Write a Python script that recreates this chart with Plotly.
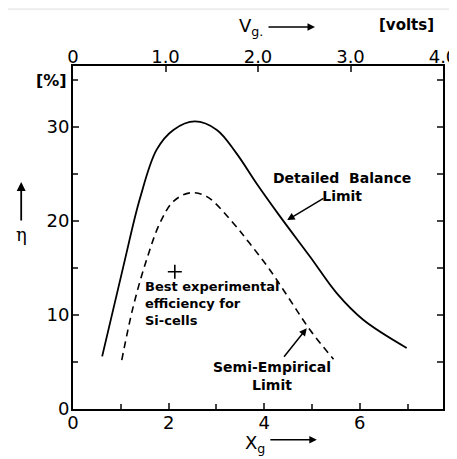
import plotly.graph_objects as go

# Detailed balance limit (solid)
db_x = [0.61, 1.05, 1.40, 1.75, 2.10, 2.55, 3.01, 3.42, 3.84, 4.33, 4.96, 5.52, 6.07, 6.98]
db_y = [5.6, 15.1, 22.4, 27.6, 29.7, 30.6, 29.7, 27.2, 24.0, 20.5, 16.2, 12.3, 9.5, 6.5]

# Semi-empirical limit (dashed)
se_x = [1.02, 1.26, 1.54, 1.82, 2.10, 2.45, 2.80, 3.35, 3.70, 4.12, 4.54, 4.96, 5.45]
se_y = [5.2, 10.9, 15.9, 19.8, 22.1, 23.0, 22.6, 19.8, 17.6, 14.8, 11.6, 8.4, 5.3]

# Best experimental efficiency for Si cells
si_x = [2.13]
si_y = [14.6]

xg_ticks = [0, 2, 4, 6]
vg_ticks = [0, 1.0, 2.0, 3.0, 4.0]
vg_labels = ["0", "1.0", "2.0", "3.0", "4.0"]
eta_ticks = [0, 10, 20, 30]

XG_MAX = 7.74
VG_MAX = 4.0
ETA_MAX = 36.5

fig = go.Figure()
fig.add_trace(go.Scatter(x=db_x, y=db_y, mode="lines", line=dict(color="black", width=1.8, shape="spline", smoothing=1.0), showlegend=False))
fig.add_trace(go.Scatter(x=se_x, y=se_y, mode="lines", line=dict(color="black", width=1.6, shape="spline", smoothing=1.0, dash="7px,5px"), showlegend=False))
fig.add_trace(go.Scatter(x=si_x, y=si_y, mode="markers", marker=dict(symbol="cross-thin", size=10, line=dict(color="black", width=1.6)), showlegend=False))
fig.add_trace(go.Scatter(x=[None], y=[None], xaxis="x2", yaxis="y2", showlegend=False))

tickfont = dict(family="DejaVu Sans", size=18, color="black")
# page body has an 8px margin: paper spans x 8..457, y 8..459
fig.update_layout(
    width=449, height=451,
    margin=dict(l=65, r=14, t=58, b=50, autoexpand=False),
    paper_bgcolor="white", plot_bgcolor="white",
    xaxis=dict(range=[0, XG_MAX], tickvals=xg_ticks, ticks="inside", ticklen=6, tickwidth=1.5,
               minor=dict(dtick=1, tick0=0, ticks="inside", ticklen=5, tickwidth=1.5),
               showline=True, linecolor="black", linewidth=2, showgrid=False, zeroline=False,
               tickfont=tickfont, ticklabeloverflow="allow", automargin=False, ticklabelstandoff=-4),
    yaxis=dict(range=[0, ETA_MAX], tickvals=eta_ticks, ticks="inside", ticklen=6, tickwidth=1.5,
               minor=dict(dtick=5, tick0=0, ticks="inside", ticklen=5, tickwidth=1.5),
               showline=True, linecolor="black", linewidth=2, showgrid=False, zeroline=False,
               tickfont=tickfont, ticklabeloverflow="allow", automargin=False, ticklabelstandoff=-2),
    xaxis2=dict(range=[0, VG_MAX], overlaying="x", side="top", tickvals=vg_ticks, ticktext=vg_labels,
                ticks="inside", ticklen=6, tickwidth=1.5, showline=True, linecolor="black", linewidth=2,
                showgrid=False, zeroline=False, tickfont=tickfont, ticklabeloverflow="allow",
                automargin=False, ticklabelstandoff=-6),
    yaxis2=dict(range=[0, ETA_MAX], overlaying="y", side="right", dtick=5, tick0=0, ticks="inside",
                ticklen=6, tickwidth=1.5, showticklabels=False, showline=True, linecolor="black",
                linewidth=2, showgrid=False, zeroline=False, automargin=False),
)

lab = dict(family="DejaVu Sans", size=13, color="black")
labb = dict(family="DejaVu Sans", size=14, color="black")
C = dict(xanchor="center", yanchor="middle")
ann = []
ann.append(dict(x=5.62, y=23.6, xref="x", yref="y", text="<b>Detailed  Balance<br>Limit</b>", showarrow=False, font=labb, align="center", **C))
ann.append(dict(x=4.48, y=20.1, xref="x", yref="y", ax=5.27, ay=22.5, axref="x", ayref="y", text="", showarrow=True, arrowhead=2, arrowsize=1, arrowwidth=1.5, arrowcolor="black"))
ann.append(dict(x=1.46, y=11.2, xref="x", yref="y", xanchor="left", yanchor="middle", text="<b>Best experimental<br>efficiency for<br>Si-cells</b>", showarrow=False, font=lab, align="left"))
ann.append(dict(x=4.16, y=3.56, xref="x", yref="y", text="<b>Semi-Empirical<br>Limit</b>", showarrow=False, font=labb, align="center", **C))
ann.append(dict(x=4.89, y=8.6, xref="x", yref="y", ax=4.39, ay=5.4, axref="x", ayref="y", text="", showarrow=True, arrowhead=2, arrowsize=1, arrowwidth=1.5, arrowcolor="black"))
# labels outside the plot area (plot area spans 370 x 343 px)
ann.append(dict(x=0.481, y=1.115, xref="paper", yref="paper", text="V<sub>g.</sub>", showarrow=False, font=dict(family="DejaVu Sans", size=18, color="black"), **C))
ann.append(dict(x=0.654, y=1.114, xref="paper", yref="paper", ax=-48, ay=0, text="", showarrow=True, arrowhead=2, arrowsize=1, arrowwidth=1.5, arrowcolor="black"))
ann.append(dict(x=0.90, y=1.12, xref="paper", yref="paper", text="<b>[volts]</b>", showarrow=False, font=dict(family="DejaVu Sans", size=15, color="black"), **C))
ann.append(dict(x=-0.059, y=0.959, xref="paper", yref="paper", text="<b>[%]</b>", showarrow=False, font=dict(family="DejaVu Sans", size=16, color="black"), **C))
ann.append(dict(x=-0.14, y=0.662, xref="paper", yref="paper", ax=0, ay=40, text="", showarrow=True, arrowhead=2, arrowsize=1, arrowwidth=1.8, arrowcolor="black"))
ann.append(dict(x=-0.14, y=0.51, xref="paper", yref="paper", text="η", showarrow=False, font=dict(family="DejaVu Serif", size=18, color="black"), **C))
ann.append(dict(x=0.492, y=-0.102, xref="paper", yref="paper", text="X<sub>g</sub>", showarrow=False, font=dict(family="DejaVu Sans", size=18, color="black"), **C))
ann.append(dict(x=0.659, y=-0.09, xref="paper", yref="paper", ax=-48, ay=0, text="", showarrow=True, arrowhead=2, arrowsize=1, arrowwidth=1.5, arrowcolor="black"))
fig.update_layout(annotations=ann)

fig.add_shape(type="line", xref="paper", yref="paper", x0=-0.2, x1=1.04, y0=1.166, y1=1.166, line=dict(color="#dddddd", width=1))

fig.write_html("out.html")
